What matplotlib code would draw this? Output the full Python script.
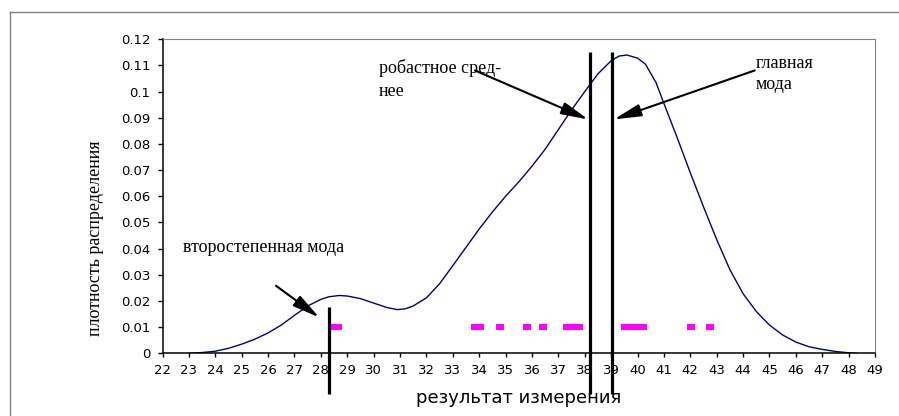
# плотность распределения результатов измерения

import matplotlib.pyplot as plt
from matplotlib.lines import Line2D

# кривая плотности
curve_x = [23.0, 23.5, 24.0, 24.5, 25.0, 25.5, 26.0, 26.5, 27.0, 27.5, 28.0, 28.3,
           28.7, 29.0, 29.5, 30.0, 30.5, 30.9, 31.2, 31.5, 32.0, 32.5, 33.0, 33.5,
           34.0, 34.5, 35.0, 35.5, 36.0, 36.5, 37.0, 37.5, 38.0, 38.5, 39.0, 39.3,
           39.6, 40.0, 40.3, 40.7, 41.0, 41.5, 42.0, 42.5, 43.0, 43.5, 44.0, 44.5,
           45.0, 45.5, 46.0, 46.5, 47.0, 47.5, 48.0, 48.3]
curve_y = [0.0, 0.0003, 0.0008, 0.0019, 0.0035, 0.0054, 0.0078, 0.0108, 0.0145, 0.0181,
           0.0206, 0.0216, 0.0221, 0.0219, 0.0209, 0.0192, 0.0175, 0.0167, 0.0170, 0.0181,
           0.0212, 0.0266, 0.0335, 0.0405, 0.0475, 0.0540, 0.0600, 0.0655, 0.0715, 0.0780,
           0.0855, 0.0930, 0.1000, 0.1068, 0.1118, 0.1136, 0.1140, 0.1128, 0.1105, 0.1035,
           0.0955, 0.0825, 0.0690, 0.0560, 0.0435, 0.0320, 0.0228, 0.0160, 0.0108, 0.0070,
           0.0043, 0.0025, 0.0015, 0.0007, 0.0002, 0.0]

# результаты измерений (розовые черточки)
points_x = [28.5, 28.65, 33.85, 34.02, 34.78, 35.83, 36.43, 37.33, 37.55, 37.77,
            39.53, 39.75, 39.97, 40.19, 42.04, 42.76]
points_y = [0.01] * len(points_x)

# вертикальные линии: вторая мода, робастное среднее, главная мода
vlines_x = [28.3, 38.2, 39.05]
vlines_top = [0.0178, 0.1151, 0.1151]
vlines_bottom = -0.0155

x_ticks = list(range(22, 50))
y_ticks = [0, 0.01, 0.02, 0.03, 0.04, 0.05, 0.06, 0.07, 0.08, 0.09, 0.1, 0.11, 0.12]
y_labels = ["0", "0.01", "0.02", "0.03", "0.04", "0.05", "0.06", "0.07", "0.08",
            "0.09", "0.1", "0.11", "0.12"]

serif = "Liberation Serif"
sans = "DejaVu Sans"

fig = plt.figure(figsize=(8.99, 4.16), dpi=100)
ax = fig.add_axes([0.1808, 0.1507, 0.7925, 0.7548])

ax.plot(curve_x, curve_y, color="#000080", lw=1.0)
ax.plot(points_x, points_y, ls="none", marker="_", ms=6.3, mew=4.3, color="#ff00ff")

for x, top in zip(vlines_x, vlines_top):
    ax.plot([x, x], [vlines_bottom, top], color="black", lw=2.3, clip_on=False,
            solid_capstyle="butt")

ax.set_xlim(22, 49)
ax.set_ylim(0, 0.12)
ax.set_xticks(x_ticks)
ax.set_xticklabels([str(t) for t in x_ticks], fontsize=9.5, family=sans)
ax.set_yticks(y_ticks)
ax.set_yticklabels(y_labels, fontsize=9.5, family=sans)
ax.tick_params(axis="x", direction="out", length=3, width=1, pad=5)
ax.tick_params(axis="y", direction="out", length=3.3, width=1, pad=5.5)

for s in ["left", "bottom"]:
    ax.spines[s].set_color("black")
    ax.spines[s].set_linewidth(1.1)
for s in ["top", "right"]:
    ax.spines[s].set_color("#808080")
    ax.spines[s].set_linewidth(0.8)

# подписи и стрелки
arrow = dict(arrowstyle="-|>,head_length=1.1,head_width=0.25", color="black",
             lw=1.5, mutation_scale=15, shrinkA=0, shrinkB=0)

ax.text(30.21, 0.1070, "робастное сред-", fontsize=13, family=serif, va="baseline")
ax.text(30.21, 0.0983, "нее", fontsize=13, family=serif, va="baseline")
ax.annotate("", xy=(38.13, 0.0894), xytext=(33.84, 0.1081), arrowprops=arrow)

ax.text(44.48, 0.1089, "главная", fontsize=13, family=serif, va="baseline")
ax.text(44.48, 0.1010, "мода", fontsize=13, family=serif, va="baseline")
ax.annotate("", xy=(39.11, 0.0894), xytext=(44.44, 0.1081), arrowprops=arrow)

ax.text(22.79, 0.0386, "второстепенная мода", fontsize=13, family=serif, va="baseline")
ax.annotate("", xy=(27.94, 0.0137), xytext=(26.3, 0.0258), arrowprops=arrow)

fig.text(95 / 899, 1 - 238 / 416, "плотность распределения", rotation=90,
         ha="center", va="center", fontsize=13, family=serif)
fig.text(519 / 899, 1 - 402.7 / 416, "результат измерения", ha="center",
         va="baseline", fontsize=13, family=sans)

# рамка области диаграммы
fig.add_artist(Line2D([10 / 899, 1], [1 - 12 / 416, 1 - 12 / 416], color="#808080", lw=1))
fig.add_artist(Line2D([10 / 899, 10 / 899], [0, 1 - 12 / 416], color="#808080", lw=1))

fig.savefig("out.png", dpi=100)
